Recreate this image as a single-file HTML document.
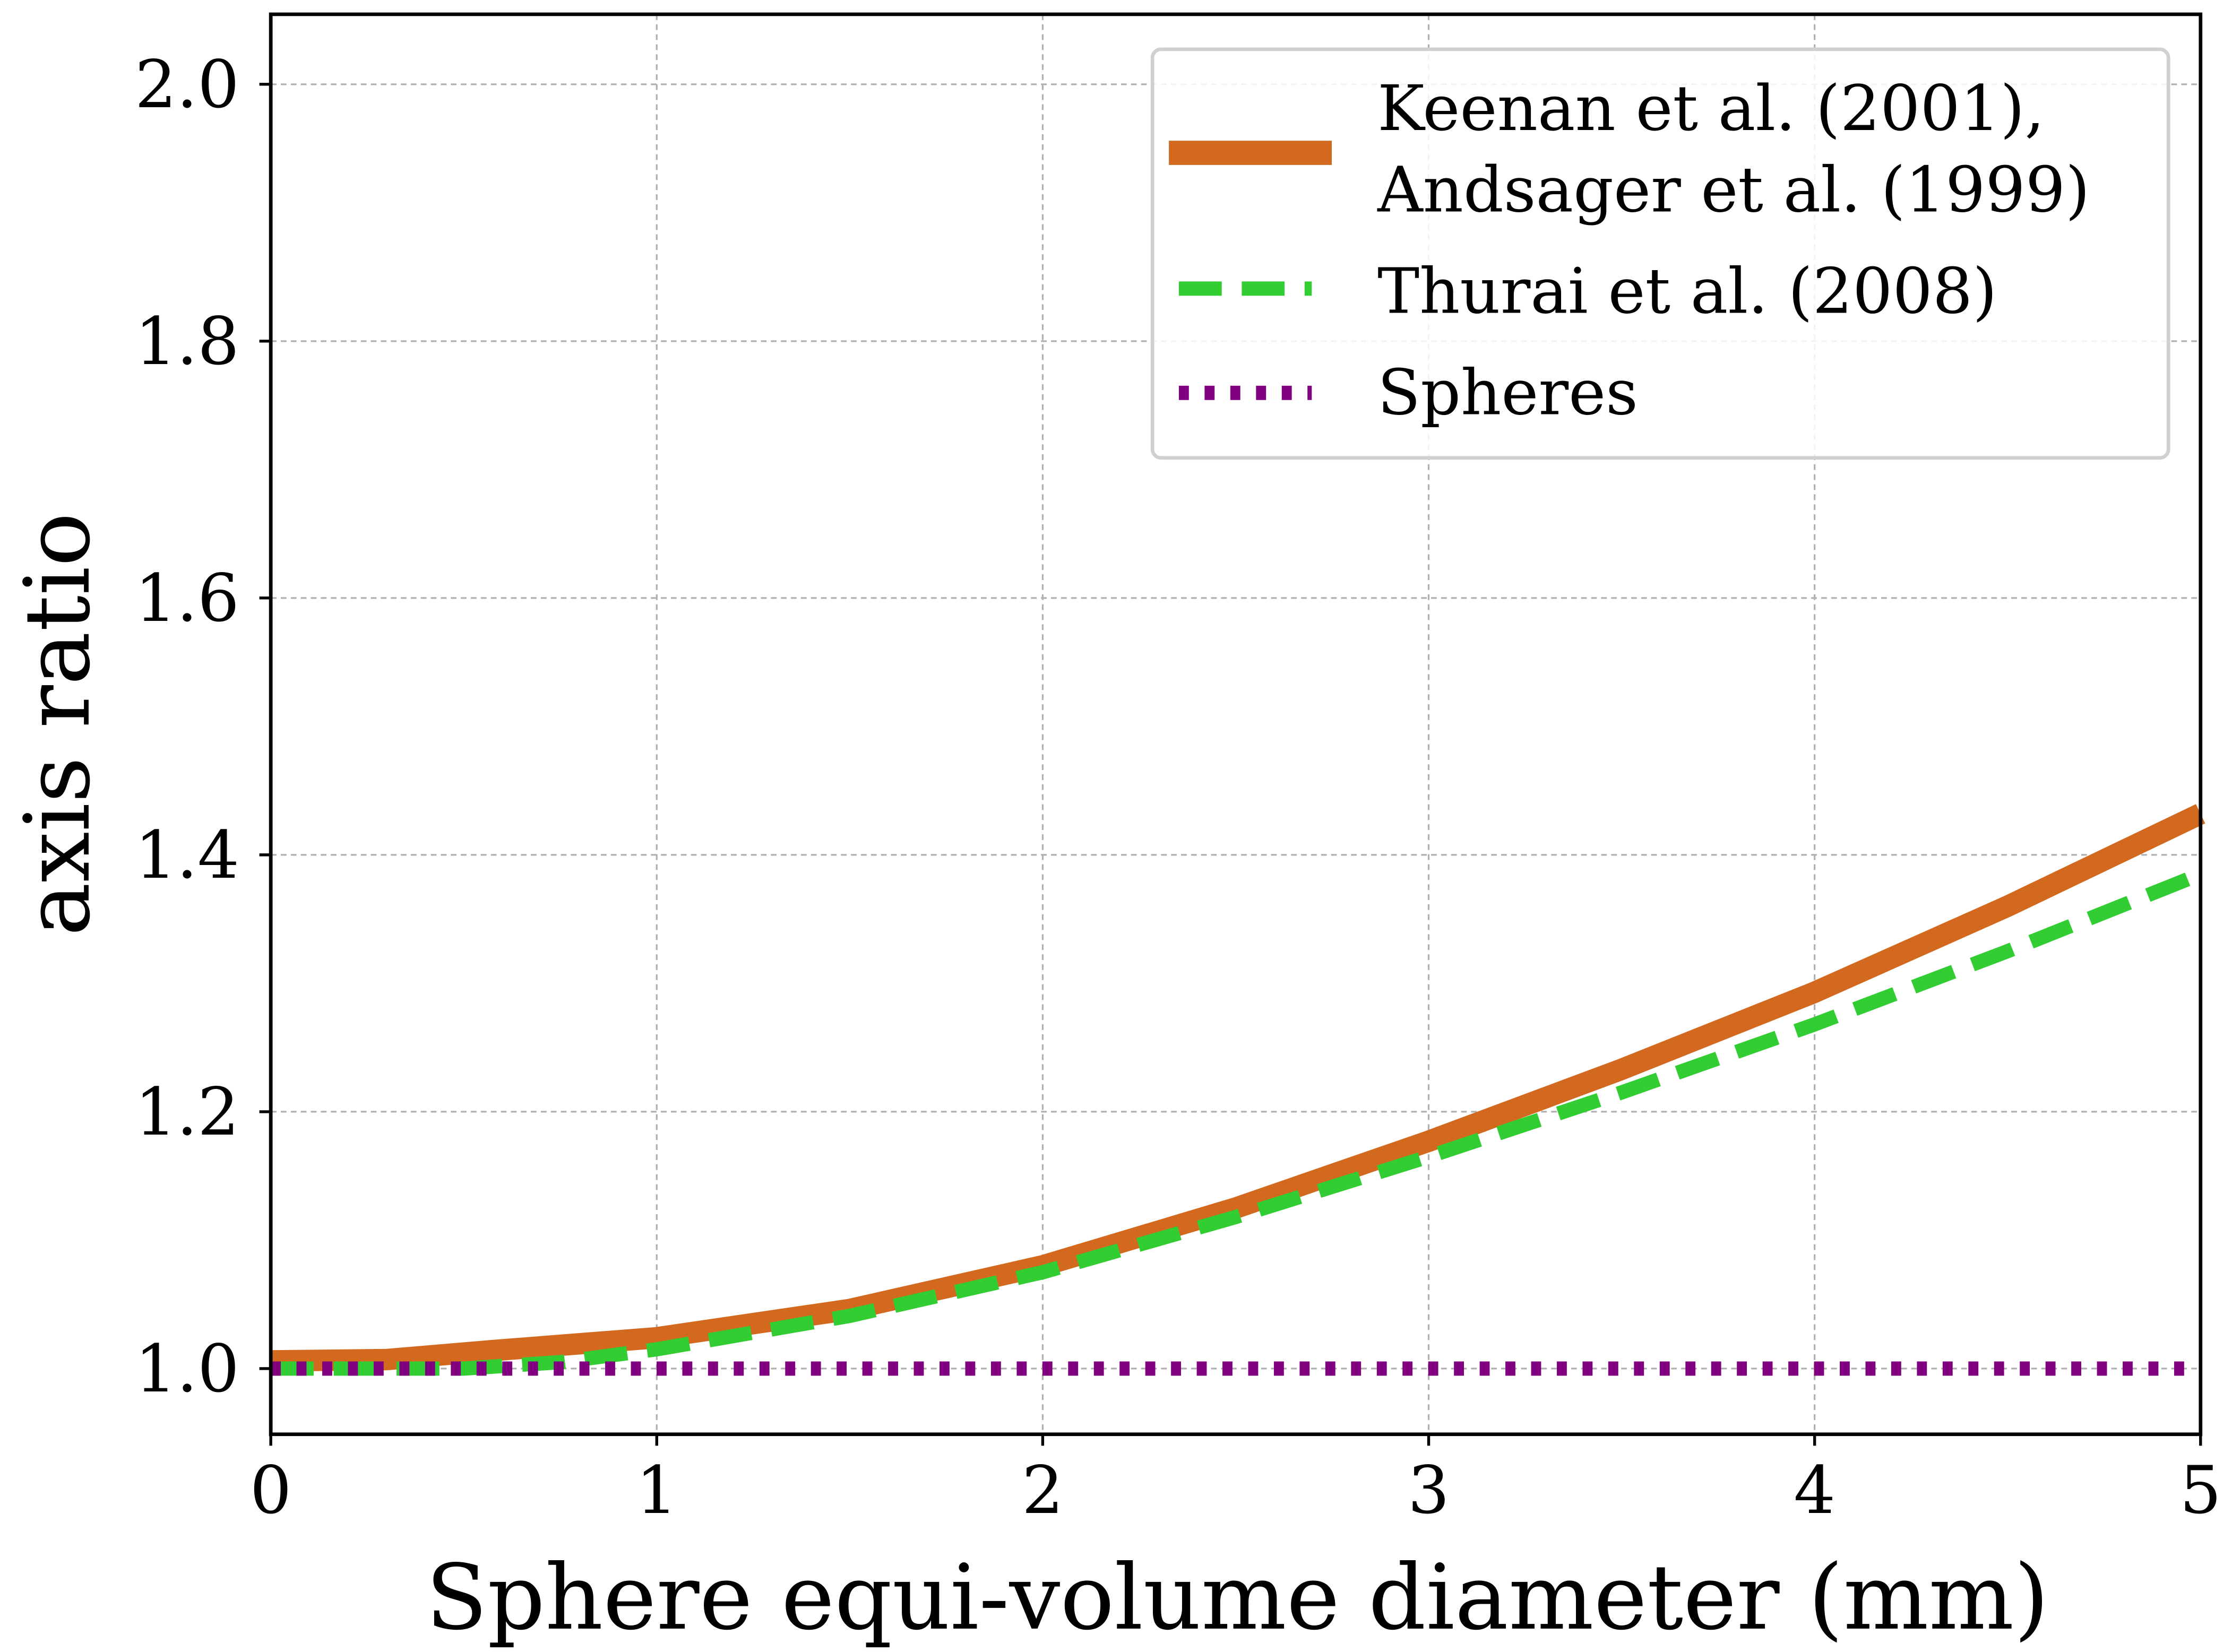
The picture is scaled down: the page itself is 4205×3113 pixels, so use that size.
<!DOCTYPE html>
<html><head><meta charset="utf-8"><style>
html,body{margin:0;padding:0;background:#fff;}
svg{display:block;font-family:"DejaVu Serif","Liberation Serif",serif;}
</style></head><body>
<svg id="chart" width="4205" height="3113" viewBox="0 0 1562 1156.4" preserveAspectRatio="none" xmlns="http://www.w3.org/2000/svg">
<g id="grid"></g>
<g id="series"></g>
<g id="axes"></g>
<text x="866" y="1140" font-size="63" text-anchor="middle">Sphere equi-volume diameter (mm)</text>
<text transform="translate(62,507) rotate(-90)" font-size="63" text-anchor="middle">axis ratio</text>
<g>
<rect x="806.5" y="34.5" width="711" height="286" rx="6" fill="#fff" fill-opacity="0.85" stroke="#d0d0d0" stroke-width="2.5"/>
<line x1="818" y1="107" x2="932" y2="107" stroke="#d2691e" stroke-width="17"/>
<text x="964" y="91" font-size="44">Keenan et al. (2001),</text>
<text x="964" y="148" font-size="44">Andsager et al. (1999)</text>
<line x1="825" y1="202" x2="918" y2="202" stroke="#32cd32" stroke-width="10" stroke-dasharray="30,14"/>
<text x="964" y="219" font-size="44">Thurai et al. (2008)</text>
<line x1="825" y1="275" x2="918" y2="275" stroke="#800080" stroke-width="10" stroke-dasharray="7,11"/>
<text x="964" y="290" font-size="44">Spheres</text>
</g>
</svg>
<script>
const xTicks = [0,1,2,3,4,5];
const yTicks = [1.0,1.2,1.4,1.6,1.8,2.0];
const keenanD = [0,0.3,0.575,1,1.5,2,2.5,3,3.5,4,4.5,5];
const keenanR = [1.006,1.007,1.014,1.024,1.046,1.08,1.125,1.177,1.233,1.293,1.36,1.432];
const thuraiD = [0,0.5,0.75,1,1.5,2,2.5,3,3.5,4,4.5,5];
const thuraiR = [1.0,1.0,1.005,1.015,1.041,1.075,1.118,1.165,1.215,1.268,1.325,1.385];
const sphereD = [0,5];
const sphereR = [1.0,1.0];
const NS="http://www.w3.org/2000/svg";
const L=189.5,R=1540,T=10,B=1004;
const X=v=>L+(v-0)/(5-0)*(R-L);
const Y=v=>958-(v-1)*899;
function mk(tag,attrs,parent){const e=document.createElementNS(NS,tag);for(const k in attrs)e.setAttribute(k,attrs[k]);parent.appendChild(e);return e;}
const grid=document.getElementById('grid'),axes=document.getElementById('axes'),series=document.getElementById('series');
xTicks.forEach(t=>{
  const g=mk('line',{x1:X(t),x2:X(t),y1:T,y2:B,stroke:'#b0b0b0','stroke-width':1.2,'stroke-dasharray':'4,3'},grid);
  
  
  const tk=mk('line',{x1:X(t),x2:X(t),y1:B,y2:B+8,stroke:'#000','stroke-width':2},axes);
  
  
  const tx=mk('text',{x:X(t),y:B+55,'font-size':46,'text-anchor':'middle'},axes);
  tx.textContent=String(t);
  
  
});
yTicks.forEach(t=>{
  const g=mk('line',{x1:L,x2:R,y1:Y(t),y2:Y(t),stroke:'#b0b0b0','stroke-width':1.2,'stroke-dasharray':'4,3'},grid);
  
  
  const tk=mk('line',{x1:L-8,x2:L,y1:Y(t),y2:Y(t),stroke:'#000','stroke-width':2},axes);
  
  
  const tx=mk('text',{x:L-22,y:Y(t)+16,'font-size':46,'text-anchor':'end'},axes);
  tx.textContent=t.toFixed(1);
  
  
});
function line(ds,rs,attrs,name){
  const d=ds.map((v,i)=>(i?'L':'M')+X(v).toFixed(2)+','+Y(rs[i]).toFixed(2)).join(' ');
  const p=mk('path',Object.assign({d:d,fill:'none'},attrs),series);
  
  
}
line(keenanD,keenanR,{stroke:'#d2691e','stroke-width':15,'stroke-linejoin':'round'},'keenan-line');
line(thuraiD,thuraiR,{stroke:'#32cd32','stroke-width':10,'stroke-dasharray':'30,14'},'thurai-line');
line(sphereD,sphereR,{stroke:'#800080','stroke-width':10,'stroke-dasharray':'7,11'},'spheres-line');
const fr=mk('rect',{x:L,y:T,width:R-L,height:B-T,fill:'none',stroke:'#000','stroke-width':2.5},axes);


</script>
</body></html>
